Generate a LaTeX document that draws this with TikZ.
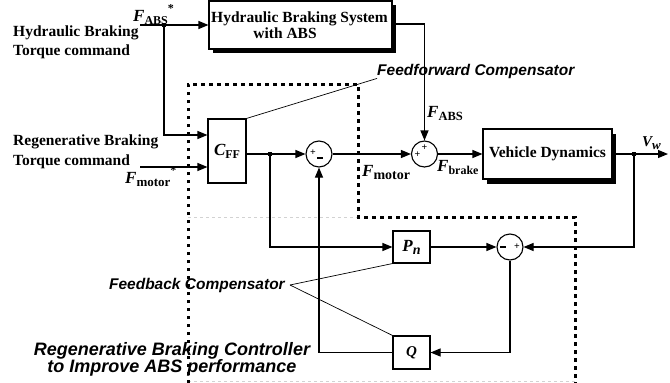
\documentclass[tikz,border=0pt]{standalone}
\usepackage{fontspec}
\setmainfont{Liberation Serif}
\newfontfamily\hv{Liberation Sans}
\usetikzlibrary{arrows.meta}
\newcommand{\mylab}[3]{{\fontsize{17}{17}\selectfont\bfseries\itshape #1}\raisebox{-3pt}{\fontsize{#3}{#3}\selectfont\bfseries #2}}
\begin{document}
\begin{tikzpicture}[x=1pt,y=-1pt,
 line/.style={line width=1.1pt},
 arr/.style={line width=1.1pt,-{Triangle[length=10pt,width=8pt]}},
 blk/.style={draw,line width=1.1pt,fill=white,inner sep=0pt,font=\fontsize{15.5}{16}\selectfont\bfseries},
 sumc/.style={draw,circle,line width=1.1pt,minimum size=26pt,inner sep=0pt},
 lbl/.style={font=\fontsize{15.5}{19.5}\selectfont\bfseries,align=left,inner sep=0pt},
 ann/.style={font=\hv\fontsize{15.5}{16}\selectfont\bfseries\itshape,inner sep=0pt},
 jdot/.style={fill,inner sep=0pt,minimum size=4pt},
 sg/.style={font=\fontsize{10}{10}\selectfont\bfseries,inner sep=0pt},
 lead/.style={line width=0.7pt},
 region/.style={line width=3pt,dash pattern=on 3.5pt off 4.5pt},
 faint/.style={line width=0.6pt,gray!35,dashed}
]
\useasboundingbox (0,0) rectangle (670,383);

% region boundaries
\draw[faint] (188,217) -- (358,217);
\draw[faint] (188,381) -- (575,381);
\draw[region] (188,383) -- (188,84) -- (358,84) -- (358,217) -- (575,217) -- (575,383);

% hydraulic box
\fill (213,5) rectangle (396,53);
\node[blk,minimum width=183pt,minimum height=48pt] (hyd) at (300.5,25) {};
\node[lbl] (hydt1) at (299.5,19) {Hydraulic Braking System};
\node[lbl] (hydt2) at (285,33) {with ABS};

% vehicle dynamics
\fill (487,134) rectangle (616,184);
\node[blk,minimum width=129pt,minimum height=50pt] (vd) at (547.5,154) {Vehicle Dynamics};

% CFF, Pn, Q
\node[blk,minimum width=38pt,minimum height=64pt] (cff) at (227,151) {\mylab{C}{FF}{12}};
\node[blk,minimum width=37pt,minimum height=32pt] (pn) at (411.5,247) {{\fontsize{17}{17}\selectfont\bfseries\itshape P}\raisebox{-3pt}{\fontsize{14}{14}\selectfont\bfseries\itshape n}};
\node[blk,minimum width=37pt,minimum height=33pt] (q) at (411.5,352.5) {{\fontsize{15}{15}\selectfont\bfseries\itshape Q}};

% summing junctions
\node[sumc] (s1) at (319,154) {};
\node[sg] at ([xshift=-6pt,yshift=1pt]s1.center) {+};
\node[sg] at ([xshift=1pt,yshift=-4pt]s1.center) {\rule{6pt}{1.2pt}};
\node[sumc] (s2) at (424.5,154) {};
\node[sg] at ([xshift=-7pt,yshift=-1pt]s2.center) {+};
\node[sg] at ([xshift=0pt,yshift=6pt]s2.center) {+};
\node[sumc] (s3) at (510,247) {};
\node[sg] at ([xshift=-7pt]s3.center) {\rule{6pt}{1.2pt}};
\node[sg] at ([xshift=7pt]s3.center) {+};

% junction dots and free ends
\node[jdot] (j1) at (164,25) {};
\node[jdot] (j2) at (270,154) {};
\node[jdot] (j3) at (634,154) {};
\coordinate (in1) at (140,25);
\coordinate (in2) at (140,167);
\coordinate (out) at (668,154);
\coordinate (cffa) at ([yshift=16pt]cff.west);
\coordinate (cffb) at ([yshift=-16pt]cff.west);

% connectors
\draw[line] (in1) -- (j1);
\draw[arr] (j1) -- (hyd.west);
\draw[arr] (j1) |- (cffa);
\draw[arr] (in2) -- (cffb);
\draw[line] (cff.east |- s1.west) -- (j2);
\draw[arr] (j2) -- (s1.west);
\draw[arr] (j2) |- (pn.west);
\draw[arr] (s1.east) -- (s2.west);
\draw[arr] ([yshift=1pt]hyd.east) -| (s2.north);
\draw[arr] (s2.east) -- (vd.west);
\draw[line] (vd.east) -- (j3);
\draw[arr] (j3) -- (out);
\draw[arr] (j3) |- (s3.east);
\draw[arr] (pn.east) -- (s3.west);
\draw[arr] (s3.south) |- (q.east);
\draw[arr] (q.west) -| (s1.south);

% signal labels
\node[inner sep=0pt,anchor=base west] (fabsst) at (133,21) {\mylab{F}{ABS}{12}\raisebox{9pt}{\fontsize{12}{12}\selectfont\bfseries *}};
\node[inner sep=0pt,anchor=base west] (fabs) at (427,117) {\mylab{F}{ABS}{12.5}};
\node[inner sep=0pt,anchor=base west] (fmot) at (362,176) {\mylab{F}{motor}{14}};
\node[inner sep=0pt,anchor=base west] (fbrk) at (437,171) {\mylab{F}{brake}{12}};
\node[inner sep=0pt,anchor=base west] (fmotst) at (125,183) {\mylab{F}{motor}{13}\raisebox{9pt}{\fontsize{12}{12}\selectfont\bfseries *}};
\node[inner sep=0pt,anchor=base west] (vw) at (642,146) {{\fontsize{15}{15}\selectfont\bfseries\itshape V}\raisebox{-3pt}{\fontsize{13}{13}\selectfont\bfseries\itshape w}};

% input labels
\node[lbl,anchor=west] (hlab) at (13,42.5) {Hydraulic Braking\\Torque command};
\node[lbl,anchor=west] (rlab) at (13,152) {Regenerative Braking\\Torque command};

% annotations
\node[ann,anchor=west] (ff) at (377,71) {Feedforward Compensator};
\draw[lead] (cff.north east) -- (ff.south west);
\node[ann,anchor=east] (fb) at (285,285) {Feedback Compensator};
\draw[lead] ([xshift=5pt]fb.east) -- (pn.south west);
\draw[lead] ([xshift=5pt]fb.east) -- (q.north west);
\node[ann,align=center,font=\hv\fontsize{18}{17}\selectfont\bfseries\itshape] (cap) at (172,359.5) {Regenerative Braking Controller\\to Improve ABS performance};
\end{tikzpicture}
\end{document}
